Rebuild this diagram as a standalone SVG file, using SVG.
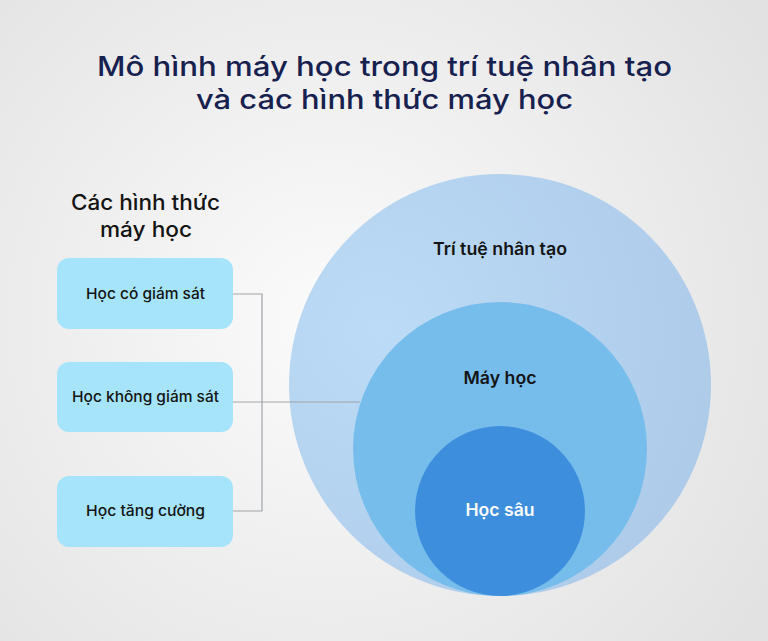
<svg xmlns="http://www.w3.org/2000/svg" width="768" height="641" viewBox="0 0 768 641">
  <defs>
    <radialGradient id="bg" cx="330" cy="320" r="520" gradientUnits="userSpaceOnUse">
      <stop offset="0" stop-color="#fbfbfb"/>
      <stop offset="1" stop-color="#e2e2e2"/>
    </radialGradient>
    <radialGradient id="outerG" cx="380" cy="330" r="360" gradientUnits="userSpaceOnUse">
      <stop offset="0" stop-color="#bcdbf6"/>
      <stop offset="1" stop-color="#adcbe9"/>
    </radialGradient>
    <style>
      .title { font-family: Inter, "Noto Sans", sans-serif; font-weight: 500; font-size: 27px; fill: #17214f; }
      .head { font-family: Inter, "Noto Sans", sans-serif; font-weight: 500; font-size: 21px; fill: #141414; }
      .box { fill: #a6e4fc; }
      .boxtext { font-family: Inter, "Noto Sans", sans-serif; font-weight: 500; font-size: 15px; fill: #141414; }
      .ctext { font-family: Inter, "Noto Sans", sans-serif; font-weight: 600; font-size: 17px; }
      .conn { fill: none; stroke: #a0a4a8; stroke-width: 1.2; }
    </style>
  </defs>
  <rect width="768" height="641" fill="url(#bg)"/>

  <g id="title">
    <text class="title" x="384.5" y="76" text-anchor="middle" textLength="575" lengthAdjust="spacingAndGlyphs">Mô hình máy học trong trí tuệ nhân tạo</text>
    <text class="title" x="384.5" y="109" text-anchor="middle" textLength="377" lengthAdjust="spacingAndGlyphs">và các hình thức máy học</text>
  </g>

  <g id="header">
    <text class="head" x="145.5" y="210" text-anchor="middle" textLength="149" lengthAdjust="spacingAndGlyphs">Các hình thức</text>
    <text class="head" x="146" y="237" text-anchor="middle" textLength="92" lengthAdjust="spacingAndGlyphs">máy học</text>
  </g>

  <g id="ai">
    <circle cx="500" cy="385" r="211" fill="url(#outerG)"/>
    <text class="ctext" x="500" y="255" text-anchor="middle" fill="#141414" textLength="134" lengthAdjust="spacingAndGlyphs">Trí tuệ nhân tạo</text>
  </g>
  <g id="ml">
    <circle cx="500" cy="449" r="147" fill="#76bdec"/>
    <text class="ctext" x="500" y="384" text-anchor="middle" fill="#141414" textLength="73" lengthAdjust="spacingAndGlyphs">Máy học</text>
  </g>
  <g id="dl">
    <circle cx="500" cy="511" r="85" fill="#3e8ede"/>
    <text class="ctext" x="500" y="516" text-anchor="middle" fill="#ffffff" textLength="69" lengthAdjust="spacingAndGlyphs">Học sâu</text>
  </g>

  <g id="supervised">
    <rect class="box" x="57" y="258" width="176" height="71" rx="12"/>
    <text class="boxtext" x="145.5" y="299" text-anchor="middle" textLength="119" lengthAdjust="spacingAndGlyphs">Học có giám sát</text>
  </g>
  <g id="unsupervised">
    <rect class="box" x="57" y="362" width="176" height="70" rx="12"/>
    <text class="boxtext" x="145.5" y="402" text-anchor="middle" textLength="147" lengthAdjust="spacingAndGlyphs">Học không giám sát</text>
  </g>
  <g id="reinforcement">
    <rect class="box" x="57" y="476" width="176" height="71" rx="12"/>
    <text class="boxtext" x="145.5" y="516" text-anchor="middle" textLength="119" lengthAdjust="spacingAndGlyphs">Học tăng cường</text>
  </g>

  <g id="connectors">
    <polyline class="conn" points="233,294 262,294 262,511 233,511"/>
    <line class="conn" x1="233" y1="402" x2="360" y2="402"/>
  </g>
</svg>
